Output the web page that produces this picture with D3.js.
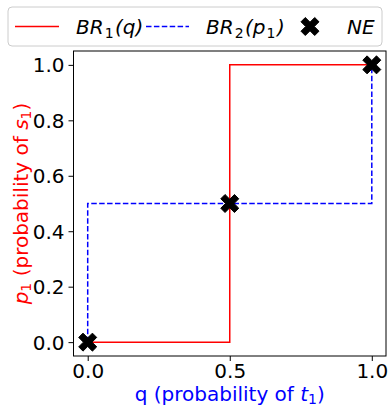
<!DOCTYPE html>
<html>
<head>
<meta charset="utf-8">
<script src="https://cdn.jsdelivr.net/npm/d3@7"></script>
<style>
  body { margin: 0; background: #fff; }
  svg { display: block; font-family: "DejaVu Sans", sans-serif; }
</style>
</head>
<body>
<svg id="chart" width="389" height="408"></svg>
<script>
// Best-response correspondences and Nash equilibria
const br1Q = [0, 0.5, 0.5, 1];
const br1P = [0, 0, 1, 1];
const br2Q = [0, 0, 1, 1];
const br2P = [0, 0.5, 0.5, 1];
const neQ = [0, 0.5, 1];
const neP = [0, 0.5, 1];
const xTicks = [0, 0.5, 1];
const yTicks = [0, 0.2, 0.4, 0.6, 0.8, 1];

const svg = d3.select("#chart");
const plotL = 73.5, plotR = 386, plotT = 51, plotB = 356;

const x = d3.scaleLinear().domain([-0.05, 1.05]).range([plotL, plotR]);
const y = d3.scaleLinear().domain([-0.05, 1.05]).range([plotB, plotT]);

const line = d3.line().x(d => x(d[0])).y(d => y(d[1]));

svg.append("path")
  .datum(br1Q.map((q, i) => [q, br1P[i]]))
  .attr("d", line).attr("fill", "none")
  .attr("stroke", "#ff0000").attr("stroke-width", 1.5);

svg.append("path")
  .datum(br2Q.map((q, i) => [q, br2P[i]]))
  .attr("d", line).attr("fill", "none")
  .attr("stroke", "#0000ff").attr("stroke-width", 1.5)
  .attr("stroke-dasharray", "5.5,2.4");

// filled "X" marker with thick arms
const xMarker = (s) => {
  const a = s / 2, b = s / 4.2;
  return `M${-a + b},${-a} L0,${-b} L${a - b},${-a} L${a},${-a + b} L${b},0 L${a},${a - b} L${a - b},${a} L0,${b} L${-a + b},${a} L${-a},${a - b} L${-b},0 L${-a},${-a + b} Z`;
};

svg.selectAll(".ne").data(neQ.map((q, i) => [q, neP[i]]))
  .enter().append("path")
  .attr("class", "ne")
  .attr("d", xMarker(18))
  .attr("transform", d => `translate(${x(d[0])},${y(d[1])})`)
  .attr("fill", "#000")
  .attr("stroke", "#000").attr("stroke-width", 1).attr("stroke-linejoin", "round");

// axes
const xAxis = d3.axisBottom(x).tickValues(xTicks).tickFormat(d3.format(".1f")).tickSize(5).tickPadding(3);
const yAxis = d3.axisLeft(y).tickValues(yTicks).tickFormat(d3.format(".1f")).tickSize(5).tickPadding(4);

const gx = svg.append("g").attr("transform", `translate(0,${plotB})`).call(xAxis);
const gy = svg.append("g").attr("transform", `translate(${plotL},0)`).call(yAxis);
[gx, gy].forEach(g => {
  g.select(".domain").remove();
  g.selectAll("text").attr("font-size", 20).attr("font-family", "DejaVu Sans").attr("fill", "#000");
  g.selectAll("line").attr("stroke", "#000");
});
gy.selectAll("text").attr("dy", "0.35em");

svg.append("rect")
  .attr("x", plotL).attr("y", plotT)
  .attr("width", plotR - plotL).attr("height", plotB - plotT)
  .attr("fill", "none").attr("stroke", "#000").attr("stroke-width", 1);

// axis titles
const xt = svg.append("text")
  .attr("x", (plotL + plotR) / 2).attr("y", 401)
  .attr("text-anchor", "middle").attr("font-size", 20).attr("fill", "#0000ff");
xt.append("tspan").text("q (probability of ");
xt.append("tspan").attr("font-style", "italic").text("t");
xt.append("tspan").attr("font-size", 14).attr("dy", 3).text("1");
xt.append("tspan").attr("dy", -3).text(")");

const yt = svg.append("text")
  .attr("transform", `translate(28,${(plotT + plotB) / 2}) rotate(-90)`)
  .attr("text-anchor", "middle").attr("font-size", 20).attr("fill", "#ff0000");
yt.append("tspan").attr("font-style", "italic").text("p");
yt.append("tspan").attr("font-size", 14).attr("dy", 3).text("1");
yt.append("tspan").attr("dy", -3).text(" (probability of ");
yt.append("tspan").attr("font-style", "italic").text("s");
yt.append("tspan").attr("font-size", 14).attr("dy", 3).text("1");
yt.append("tspan").attr("dy", -3).text(")");

// legend
const lg = svg.append("g");
lg.append("rect").attr("x", 8).attr("y", 7).attr("width", 374).attr("height", 39)
  .attr("rx", 4).attr("fill", "#fff").attr("stroke", "#ccc").attr("stroke-width", 1);
const ly = 26.5;
lg.append("line").attr("x1", 15).attr("x2", 59).attr("y1", ly).attr("y2", ly)
  .attr("stroke", "#ff0000").attr("stroke-width", 1.5);
lg.append("line").attr("x1", 146).attr("x2", 189).attr("y1", ly).attr("y2", ly)
  .attr("stroke", "#0000ff").attr("stroke-width", 1.5).attr("stroke-dasharray", "5.5,2.4");
lg.append("path").attr("d", xMarker(18)).attr("transform", `translate(310,${ly})`)
  .attr("fill", "#000").attr("stroke", "#000").attr("stroke-width", 1).attr("stroke-linejoin", "round");

const legendLabel = (xp, parts) => {
  const t = lg.append("text").attr("x", xp).attr("y", ly + 7).attr("font-size", 20)
    .attr("font-style", "italic").attr("fill", "#000");
  parts.forEach(p => {
    const s = t.append("tspan").text(p.t);
    if (p.sub) s.attr("font-size", 14).attr("font-style", "normal").attr("dy", 4).attr("dx", 1);
    if (p.up) s.attr("dy", -4).attr("dx", 1.5);
  });
};
legendLabel(76, [{t: "BR"}, {t: "1", sub: true}, {t: "(q)", up: true}]);
legendLabel(206, [{t: "BR"}, {t: "2", sub: true}, {t: "(p", up: true}, {t: "1", sub: true}, {t: ")", up: true}]);
legendLabel(347, [{t: "NE"}]);
</script>
</body>
</html>
